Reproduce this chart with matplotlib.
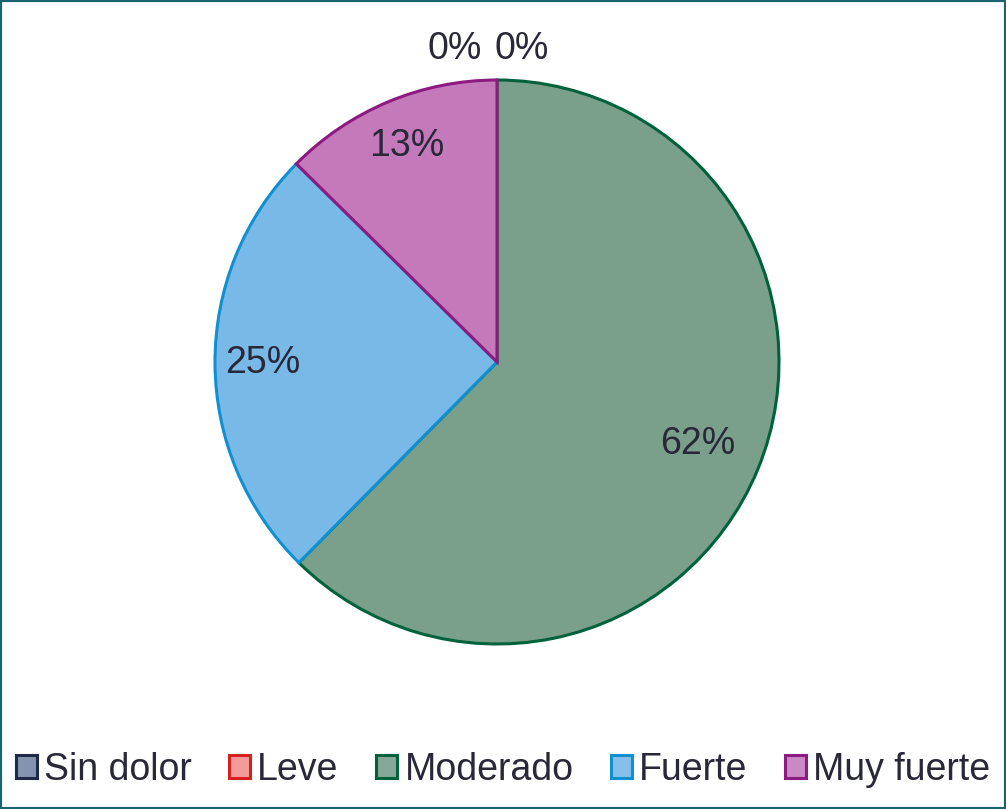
import matplotlib
matplotlib.use('Agg')
import numpy as np
from matplotlib import pyplot as plt
from matplotlib.patches import Patch, Rectangle

plt.rcParams['font.family'] = ['Liberation Sans', 'DejaVu Sans']

categories = ['Sin dolor', 'Leve', 'Moderado', 'Fuerte', 'Muy fuerte']
values = [0, 0, 62.4, 25.0, 12.6]
face_colors = ['#8090aa', '#f29090', '#7aa08c', '#78b9e8', '#c47aba']
edge_colors = ['#1f2a4a', '#d42020', '#00623a', '#1090d0', '#8c1a80']
legend_faces = ['#8494ae', '#f39a9a', '#86a898', '#86c0ea', '#c88ac4']
label_radius = [1.11, 1.11, 0.77, 0.83, 0.83]


def main():
    fig = plt.figure(figsize=(10.06, 8.09), dpi=100)
    ax = fig.add_axes([0, 0, 1, 1])

    cx, cy, r = 497, 447, 282
    total = sum(values)

    wedges, _ = ax.pie(values, colors=face_colors, startangle=90,
                       counterclock=False, center=(cx, cy), radius=r,
                       wedgeprops=dict(linewidth=2.2))
    for w, ec in zip(wedges, edge_colors):
        w.set_edgecolor(ec)

    ax.set_xlim(0, 1006)
    ax.set_ylim(0, 809)
    ax.set_aspect('equal')
    ax.axis('off')

    # percent labels (zero slices sit side by side above the top)
    ang = 90.0
    zero_i = 0
    for v, lr in zip(values, label_radius):
        pct = v / total * 100
        span = v / total * 360
        mid = np.deg2rad(ang - span / 2)
        if v == 0:
            tx = cx + (-42 if zero_i == 0 else 25)
            ty = cy + r * lr
            zero_i += 1
        else:
            tx = cx + lr * r * np.cos(mid)
            ty = cy + lr * r * np.sin(mid)
        ax.text(tx, ty, '%d%%' % round(pct - 0.01), ha='center', va='center',
                fontsize=27, color='#282838')
        ang -= span

    handles = [Patch(facecolor=f, edgecolor=e, linewidth=2.2)
               for f, e in zip(legend_faces, edge_colors)]
    fig.legend(handles, categories, loc='center', ncol=5,
               bbox_to_anchor=(0.5, 1 - 770 / 809), frameon=False,
               fontsize=27, handlelength=0.55, handleheight=0.55,
               handletextpad=0.2, columnspacing=1.0, labelcolor='#282838',
               borderpad=0, borderaxespad=0)

    fig.patches.append(Rectangle((0, 0), 1, 1, transform=fig.transFigure,
                                 fill=False, edgecolor='#1a6470', linewidth=3))

    fig.savefig('out.png', dpi=100)


if __name__ == '__main__':
    main()
